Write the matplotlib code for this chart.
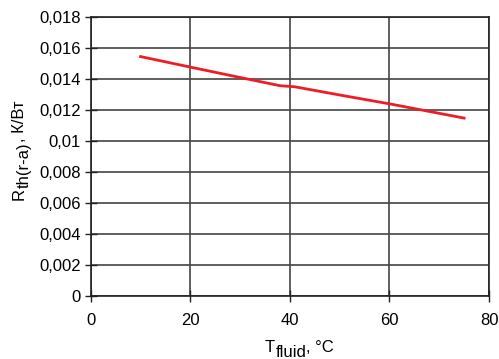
import matplotlib
matplotlib.use('Agg')
import matplotlib.pyplot as plt
from matplotlib.ticker import FuncFormatter

# data
t_fluid = [10, 20, 30, 38, 41, 50, 60, 75]
r_th = [0.01545, 0.01477, 0.01410, 0.01357, 0.01350, 0.01297, 0.01240, 0.01148]

x_ticks = [0, 20, 40, 60, 80]
y_ticks = [0.002 * i for i in range(10)]

plt.rcParams['font.family'] = ['Liberation Sans', 'DejaVu Sans']

W, H = 499, 359
fig = plt.figure(figsize=(W / 100, H / 100), dpi=100)
ax = fig.add_axes([0.182, 0.1755, 0.798, 0.777])

ax.plot(t_fluid, r_th, color='#ee1c25', linewidth=2, solid_joinstyle='round')

ax.set_xlim(0, 80)
ax.set_ylim(0, 0.018)
ax.set_xticks(x_ticks)
ax.set_yticks(y_ticks)


def comma_fmt(v, pos):
    if abs(v) < 1e-12:
        return '0'
    s = ('%.3f' % v).rstrip('0')
    return s.replace('.', ',')


ax.yaxis.set_major_formatter(FuncFormatter(comma_fmt))
ax.grid(True, color='#444444', linewidth=1.2)
ax.set_axisbelow(True)
for sp in ax.spines.values():
    sp.set_color('#222222')
    sp.set_linewidth(1.2)
ax.tick_params(direction='inout', length=8, width=1, color='#222222', labelsize=12)
ax.tick_params(axis='x', pad=8)
ax.tick_params(axis='y', pad=3)

# axis labels with full size subscripts, built piece by piece
fs = 12
sub = 5  # subscript drop, px

t1 = fig.text(265 / W, 1 - 352 / H, 'T', ha='left', va='baseline', fontsize=fs)
t2 = ax.annotate('fluid', xy=(1, 0), xycoords=t1, xytext=(0.5, -sub),
                 textcoords='offset pixels', ha='left', va='bottom', fontsize=fs,
                 annotation_clip=False)
t3 = ax.annotate(', °C', xy=(1, 0), xycoords=t2, xytext=(0, sub),
                 textcoords='offset pixels', ha='left', va='bottom', fontsize=fs,
                 annotation_clip=False)

r1 = fig.text(27 / W, 1 - 200 / H, 'R', rotation=90, ha='right', va='bottom', fontsize=fs)
r2 = ax.annotate('th(r-a)', xy=(1, 1), xycoords=r1, xytext=(sub, 0.5),
                 textcoords='offset pixels', rotation=90, ha='right', va='bottom',
                 fontsize=fs, annotation_clip=False)
r3 = ax.annotate(', К/Вт', xy=(1, 1), xycoords=r2, xytext=(-sub, 0),
                 textcoords='offset pixels', rotation=90, ha='right', va='bottom',
                 fontsize=fs, annotation_clip=False)

fig.savefig('out.png', dpi=100)
